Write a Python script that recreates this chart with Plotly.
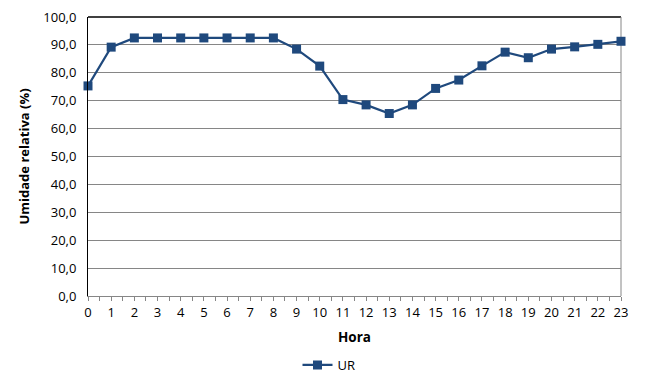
import plotly.graph_objects as go

horas = list(range(24))
ur = [75.3, 89.2, 92.5, 92.5, 92.5, 92.5, 92.5, 92.5, 92.5, 88.5, 82.4, 70.4,
      68.5, 65.4, 68.5, 74.4, 77.4, 82.5, 87.4, 85.4, 88.5, 89.3, 90.2, 91.3]
y_ticks = [0, 10, 20, 30, 40, 50, 60, 70, 80, 90, 100]

cor = "#1F497D"
fonte = "Open Sans, DejaVu Sans, sans-serif"

fig = go.Figure()
fig.add_trace(go.Scatter(
    x=horas, y=ur, mode="lines+markers", name="UR",
    line=dict(color=cor, width=2.2),
    marker=dict(symbol="square", size=9, color=cor),
    cliponaxis=False,
))

# page body has an 8px margin, so the figure is sized/shifted to compensate
fig.update_layout(
    width=642, height=373,
    margin=dict(l=80, r=29, t=9, b=85),
    paper_bgcolor="white", plot_bgcolor="white",
    separators=",.",
    font=dict(family=fonte, size=13, color="#000000"),
    showlegend=True,
    legend=dict(orientation="h", xref="container", x=0.5, xanchor="center",
                yref="container", y=0.043, yanchor="middle",
                font=dict(size=13), itemwidth=30),
)
fig.update_xaxes(
    range=[0, 23], tickmode="array", tickvals=horas,
    ticktext=[str(h) for h in horas],
    showgrid=False, zeroline=False, automargin=False,
    showline=True, linecolor="#868686", linewidth=1,
    ticks="outside", ticklen=4, tickcolor="#868686",
    ticklabeloverflow="allow",
    minor=dict(dtick=0.5, ticks="outside", ticklen=4, tickcolor="#868686", showgrid=False),
    title=dict(text="<b>Hora</b>", font=dict(size=13.5), standoff=12),
    fixedrange=True,
)
fig.update_yaxes(
    range=[0, 100], tickmode="array", tickvals=y_ticks, tickformat=".1f",
    showgrid=True, gridcolor="#868686", gridwidth=1, zeroline=False, automargin=False,
    showline=True, linecolor="#000000", linewidth=1,
    ticks="", ticklabelstandoff=8, ticklabeloverflow="allow",
    title=dict(text="<b>Umidade relativa (%)</b>", font=dict(size=13), standoff=10),
)
# plot area border: black top edge, gray right edge
fig.add_shape(type="line", xref="paper", yref="paper", x0=0, x1=1, y0=1, y1=1,
              line=dict(color="#000000", width=1.5), layer="below")
fig.add_shape(type="line", xref="paper", yref="paper", x0=1, x1=1, y0=0, y1=1,
              line=dict(color="#868686", width=1), layer="below")

fig.write_html("out.html")
